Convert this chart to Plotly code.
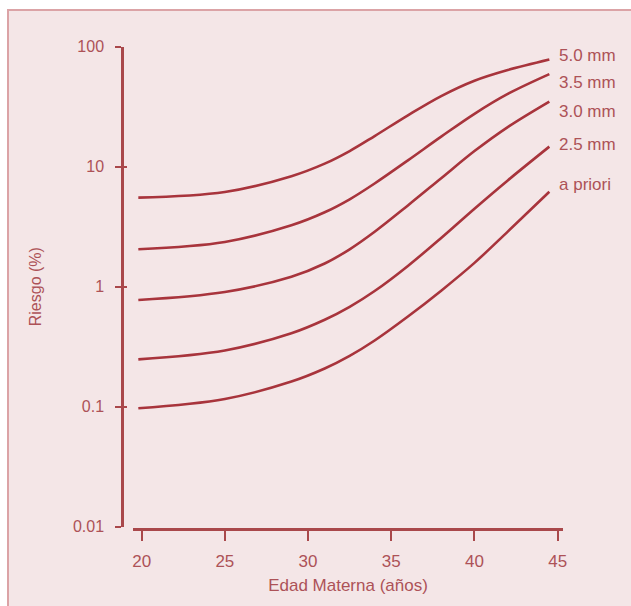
import math
import plotly.graph_objects as go

# ---- data ----
edad = [19.8, 25, 29, 31, 32.5, 34, 36, 38, 40, 42, 44.5]
riesgo_50 = [5.52, 6.15, 8.33, 10.6, 13.5, 18.0, 26.8, 38.8, 52.1, 64.0, 78.3]
riesgo_35 = [2.05, 2.36, 3.25, 4.17, 5.35, 7.25, 11.3, 17.8, 27.6, 40.4, 59.1]
riesgo_30 = [0.775, 0.904, 1.21, 1.56, 2.05, 2.87, 4.76, 8.02, 13.5, 21.4, 34.9]
riesgo_25 = [0.248, 0.294, 0.409, 0.530, 0.679, 0.920, 1.49, 2.55, 4.47, 7.69, 14.7]
riesgo_ap = [0.097, 0.116, 0.162, 0.208, 0.265, 0.356, 0.564, 0.927, 1.58, 2.88, 6.19]
series_labels = ["5.0 mm", "3.5 mm", "3.0 mm", "2.5 mm", "a priori"]
x_ticks = [20, 25, 30, 35, 40, 45]
y_ticks = [0.01, 0.1, 1, 10, 100]
y_ticklabels = ["0.01", "0.1", "1", "10", "100"]

series = [riesgo_50, riesgo_35, riesgo_30, riesgo_25, riesgo_ap]

# ---- style ----
W, H = 631, 606
line_col = "#a8343c"
axis_col = "#a9484b"
text_col = "#ad5257"
bg_col = "#f4e6e7"
border_col = "#dba3a6"
font_fam = "Liberation Sans, Arial, sans-serif"
label_shift = [(8, 4), (8, -8), (8, -10), (8, 2), (8, 7)]

fig = go.Figure()
for ys, name in zip(series, series_labels):
    fig.add_trace(go.Scatter(x=edad, y=ys, mode="lines", name=name,
                             line=dict(color=line_col, width=2.6, shape="spline", smoothing=1.0),
                             hoverinfo="skip", showlegend=False))
# invisible companion trace so the overlaid axis (inner half of the "+" ticks) is drawn
fig.add_trace(go.Scatter(x=edad, y=riesgo_ap, yaxis="y2", mode="lines", opacity=0,
                         line=dict(width=0), hoverinfo="skip", showlegend=False))

for ys, name, (dx, dy) in zip(series, series_labels, label_shift):
    fig.add_annotation(x=edad[-1], y=math.log10(ys[-1]), xref="x", yref="y", yanchor="middle",
                       text=name, showarrow=False, xanchor="left", xshift=dx, yshift=dy,
                       font=dict(family=font_fam, size=17, color=text_col))

x0p, x1p = 133, 563          # x axis line extent (px)
ytop, ybot = 46.7, 526.7     # y domain (px)
ydom = [(H - ybot) / H, (H - ytop) / H]
fig.update_layout(
    width=W, height=H,
    margin=dict(l=0, r=0, t=0, b=0, autoexpand=False),
    paper_bgcolor="white",
    plot_bgcolor="rgba(0,0,0,0)",
    font=dict(family=font_fam, color=text_col, size=16),
    xaxis=dict(domain=[x0p / W, x1p / W], range=[19.48, 45.32],
               anchor="free", position=(H - 529) / H, automargin=False,
               showline=True, linecolor=axis_col, linewidth=2.5,
               ticks="outside", tickcolor=axis_col, ticklen=10, tickwidth=2,
               tickvals=x_ticks, ticklabelstandoff=6,
               tickfont=dict(size=17, color=text_col),
               showgrid=False, zeroline=False,
               title=dict(text="Edad Materna (años)", font=dict(size=17, color=text_col), standoff=8)),
    yaxis=dict(domain=ydom, type="log", range=[-2, 2],
               anchor="free", position=122 / W, automargin=False,
               showline=True, linecolor=axis_col, linewidth=2.5,
               ticks="outside", tickcolor=axis_col, ticklen=6, tickwidth=2,
               tickvals=y_ticks, ticktext=y_ticklabels, ticklabelstandoff=8,
               tickfont=dict(size=16, color=text_col),
               showgrid=False, zeroline=False,
               title=dict(text="Riesgo (%)", font=dict(size=16, color=text_col), standoff=26)),
    yaxis2=dict(domain=ydom, type="log", range=[-2, 2], overlaying="y",
                anchor="free", position=122 / W, automargin=False, side="left",
                showline=False, ticks="inside", tickcolor=axis_col, ticklen=4, tickwidth=2,
                tickvals=y_ticks, showticklabels=False, showgrid=False, zeroline=False),
    shapes=[dict(type="rect", xref="paper", yref="paper", x0=8 / W, x1=1.01, y0=-0.01, y1=(H - 10) / H,
                 fillcolor=bg_col, line=dict(color=border_col, width=2), layer="below")],
)

fig.write_html("out.html")
